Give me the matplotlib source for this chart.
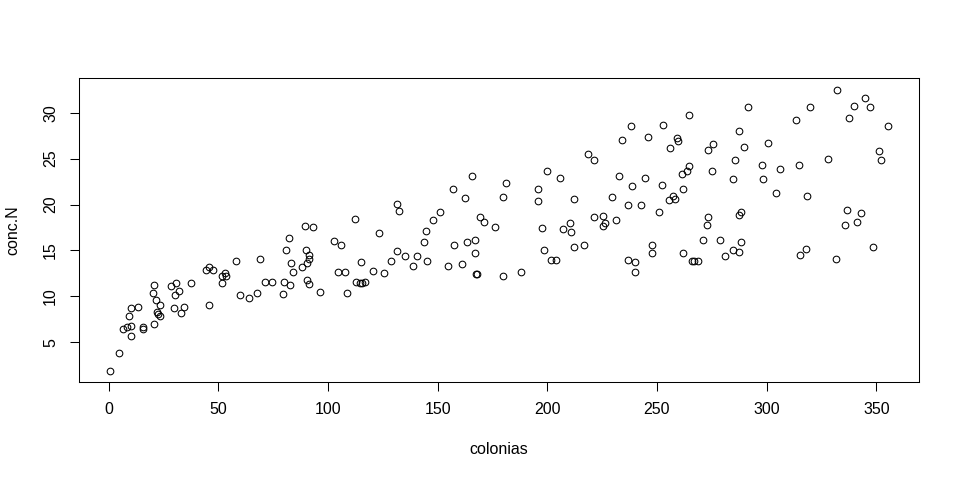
import numpy as np
import matplotlib
matplotlib.use('Agg')
import matplotlib.pyplot as plt

plt.rcParams['font.family'] = ['Liberation Sans', 'DejaVu Sans']

colonias = [
    0.5, 4.6, 6.4, 8.6, 10.1, 10.1, 9.2, 10.1, 13.6, 15.5, 15.5, 20.5, 20.1, 21.4, 23.3,
    22.3, 22.7, 23.4, 20.5, 28.3, 30.6, 30.1, 31.9, 29.7, 32.8, 34.2, 37.4, 44.2, 45.6,
    47.4, 45.6, 51.5, 51.5, 53.3, 53.4, 57.9, 59.7, 63.8, 67.5, 68.9, 71.2, 74.7, 79.3,
    80.2, 80.7,
    82.5, 84.3, 83.0, 82.1, 89.4, 93.4, 89.8, 91.2, 91.6, 90.3, 88.0, 90.3, 91.6, 96.2,
    102.6, 105.8, 104.4, 107.6, 108.5, 112.5, 115.3, 113.0, 114.8, 115.7, 116.7, 120.5,
    123.1, 125.4, 128.6, 131.7, 132.6, 131.7, 135.3, 139.0, 140.4, 145.0, 144.0, 144.5,
    147.7, 150.9, 154.9, 157.7, 160.9, 163.2, 166.9, 166.9, 167.3, 168.1, 157.2, 165.5,
    162.3, 169.5, 171.3, 176.4,
    179.6, 187.8, 179.6, 181.4, 196.0, 196.0, 200.1, 205.6, 197.4, 198.7, 201.9, 204.2,
    207.0, 210.2, 210.6, 212.4, 212.4, 216.9, 218.8, 221.5, 221.5, 225.2, 226.1, 225.2,
    231.5, 229.3, 232.5, 234.3, 238.4, 238.8, 237.0, 242.8, 244.7, 245.7, 237.0, 239.8,
    239.8, 247.9, 247.9, 251.1, 252.5, 252.9, 256.1, 259.3, 259.8, 264.4, 261.2, 263.5,
    264.4, 262.1, 255.6, 257.5, 258.4, 262.1, 266.0, 266.7, 268.5, 270.8, 272.6, 273.5,
    273.5,
    275.7, 275.3, 287.6, 291.7, 289.9, 285.8, 284.9, 278.8, 281.2, 284.9, 287.6, 288.1,
    287.2, 288.1, 300.8, 298.0, 298.5, 306.3, 304.5, 314.9, 313.6, 320.0, 328.2, 332.2,
    340.0, 345.0, 347.3, 337.7, 355.5, 351.4, 352.3, 318.6, 336.8, 343.2, 335.9, 341.0,
    318.1, 315.4, 331.8, 348.7,
]
conc_N = [
    1.9, 3.8, 6.4, 6.7, 6.8, 5.7, 7.9, 8.7, 8.8, 6.7, 6.4, 11.2, 10.4, 9.6, 9.1,
    8.3, 8.1, 7.9, 7.0, 11.1, 11.4, 10.2, 10.6, 8.7, 8.2, 8.8, 11.4, 12.9, 13.2,
    12.9, 9.1, 12.2, 11.5, 12.5, 12.2, 13.9, 10.1, 9.8, 10.4, 14.1, 11.6, 11.6, 10.3,
    11.6, 15.0,
    11.2, 12.6, 13.6, 16.3, 17.7, 17.5, 15.1, 14.5, 14.1, 13.6, 13.2, 11.8, 11.3, 10.5,
    16.0, 15.6, 12.7, 12.7, 10.4, 18.4, 13.7, 11.6, 11.4, 11.5, 11.6, 12.8,
    16.9, 12.5, 13.8, 20.1, 19.3, 14.9, 14.4, 13.3, 14.4, 13.9, 15.9, 17.1,
    18.3, 19.2, 13.3, 15.6, 13.5, 15.9, 16.1, 14.7, 12.4, 12.4, 21.7, 23.1,
    20.7, 18.6, 18.1, 17.5,
    12.2, 12.6, 20.8, 22.3, 21.7, 20.4, 23.6, 22.9, 17.4, 15.1, 14.0, 14.0,
    17.3, 18.0, 17.0, 20.6, 15.4, 15.6, 25.5, 24.9, 18.6, 18.7, 18.0, 17.7,
    18.3, 20.8, 23.1, 27.0, 28.5, 22.0, 20.0, 20.0, 22.9, 27.3, 14.0, 13.7,
    12.7, 15.6, 14.7, 19.2, 22.1, 28.7, 26.1, 27.2, 26.9, 29.7, 23.3, 23.6,
    24.2, 21.7, 20.5, 20.9, 20.6, 14.7, 13.9, 13.9, 13.9, 16.1, 17.8, 25.9,
    18.6,
    26.6, 23.7, 28.0, 30.6, 26.3, 24.9, 22.8, 16.1, 14.4, 15.0, 14.8, 15.9,
    18.9, 19.2, 26.7, 24.3, 22.8, 23.9, 21.2, 24.3, 29.2, 30.6, 25.0, 32.5,
    30.7, 31.6, 30.6, 29.4, 28.6, 25.8, 24.9, 20.9, 19.4, 19.1, 17.8, 18.1,
    15.2, 14.5, 14.1, 15.4,
]
x_ticks = [0, 50, 100, 150, 200, 250, 300, 350]
y_ticks = [5, 10, 15, 20, 25, 30]

fig = plt.figure(figsize=(9.6, 4.8), dpi=100)
ax = fig.add_axes([0.0818, 0.2042, 0.876, 0.6323])

ax.plot(colonias, conc_N, 'o', ms=4.8, mfc='none', mec='black', mew=0.75)

# rango como en R: 4% a cada lado
xr = max(colonias) - min(colonias)
yr = max(conc_N) - min(conc_N)
ax.set_xlim(min(colonias) - 0.04 * xr, max(colonias) + 0.04 * xr)
ax.set_ylim(min(conc_N) - 0.04 * yr, max(conc_N) + 0.04 * yr)

ax.set_xticks(x_ticks)
ax.set_yticks(y_ticks)
ax.tick_params(direction='out', length=6.7, width=0.75, labelsize=11.5, pad=8)
ax.tick_params(axis='y', labelrotation=90)
for lab in ax.get_yticklabels():
    lab.set_va('center')

for s in ax.spines.values():
    s.set_linewidth(0.75)

fig.text(499 / 960, 1 - 450 / 480, 'colonias', ha='center', va='center', fontsize=11.5)
fig.text(13 / 960, 1 - 230 / 480, 'conc.N', ha='center', va='center', rotation=90, fontsize=11.5)

fig.savefig('out.png', dpi=100)
